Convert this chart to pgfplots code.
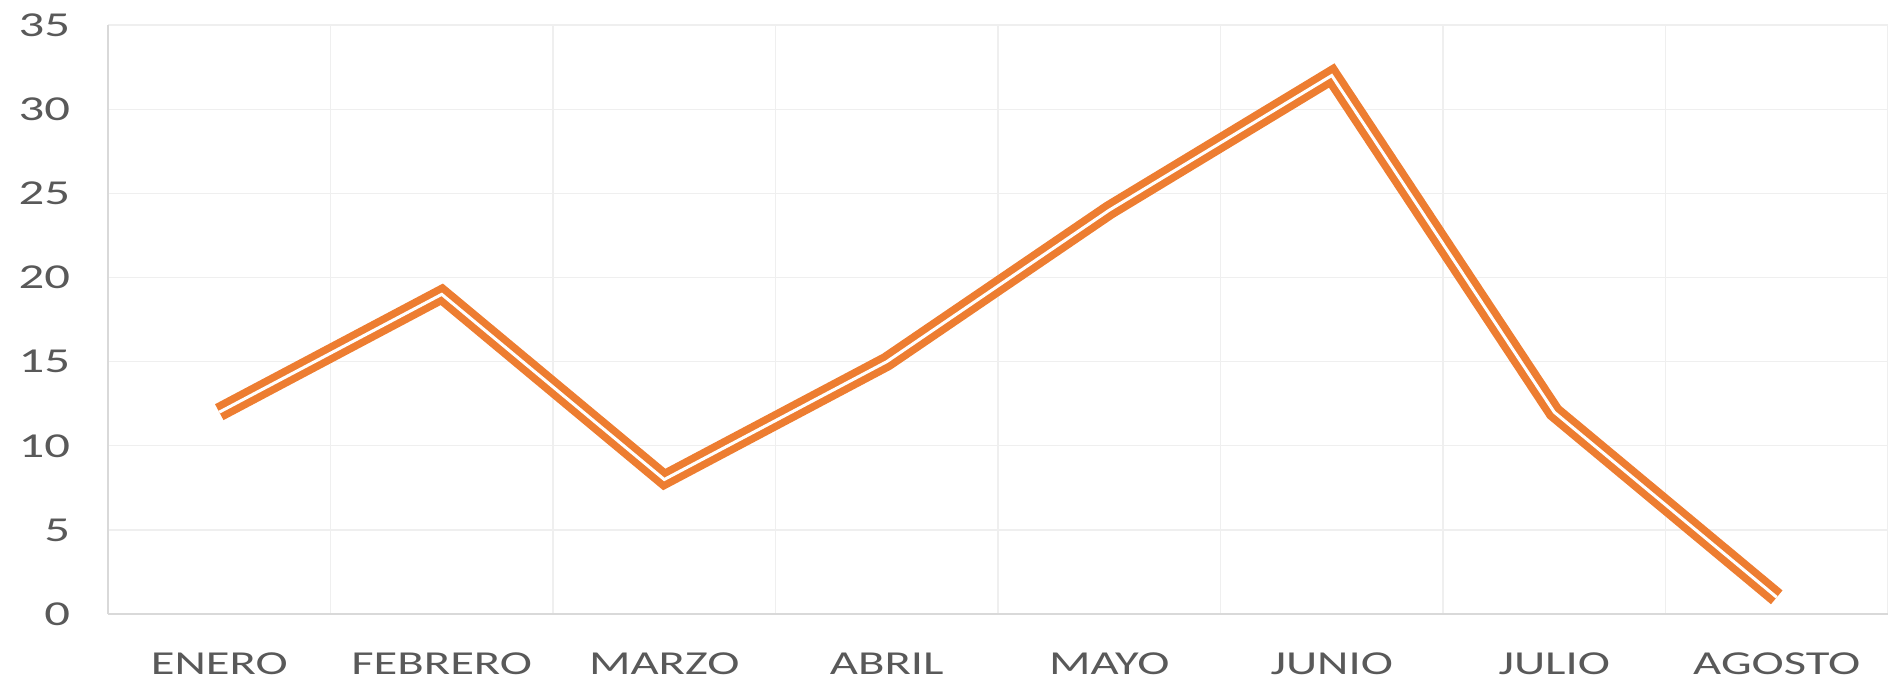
\documentclass[border=0pt]{standalone}
\usepackage{pgfplots}
\pgfplotsset{compat=1.18}
\usepackage{fontspec}
\setmainfont{Carlito}
\newfontfamily\lblfont[FakeStretch=1.45]{Carlito}
\definecolor{lineor}{HTML}{ED7D31}
\definecolor{gridc}{HTML}{EFEFEF}
\definecolor{axc}{HTML}{D9D9D9}
\definecolor{txt}{HTML}{595959}
\begin{document}
\begin{tikzpicture}
\path[use as bounding box] (-43.2pt,-26.8pt) rectangle (711.8pt,245.6pt);
\begin{axis}[
  scale only axis,
  width=711.8pt, height=235.6pt,
  at={(0,0)}, anchor=south west,
  xmin=-0.5, xmax=7.5,
  ymin=0, ymax=35,
  xtick={0,...,7},
  xticklabels={ENERO,FEBRERO,MARZO,ABRIL,MAYO,JUNIO,JULIO,AGOSTO},
  minor xtick={-0.5,0.5,...,7.5},
  ytick={0,5,...,35},
  major tick length=0pt, minor tick length=0pt,
  xmajorgrids=false, xminorgrids=true, ymajorgrids=true,
  grid style={gridc, line width=0.5pt},
  minor grid style={gridc, line width=0.5pt},
  axis x line*=bottom, axis y line*=left,
  axis line style={axc, line width=0.8pt, -},
  tick label style={text=txt, inner sep=0pt},
  yticklabel style={font=\lblfont\fontsize{14}{17}\selectfont, anchor=east, xshift=-15pt},
  xticklabel style={font=\lblfont\fontsize{13.4}{15}\selectfont, anchor=center, yshift=-19.7pt},
  /pgf/number format/assume math mode=true,
  clip=false,
]
\addplot[lineor, line width=3pt, double=white, double distance=1.2pt, line join=miter, mark=none]
coordinates {(0,12) (1,19) (2,8) (3,15) (4,24) (5,32) (6,12) (7,1)};
\end{axis}
\end{tikzpicture}
\end{document}
